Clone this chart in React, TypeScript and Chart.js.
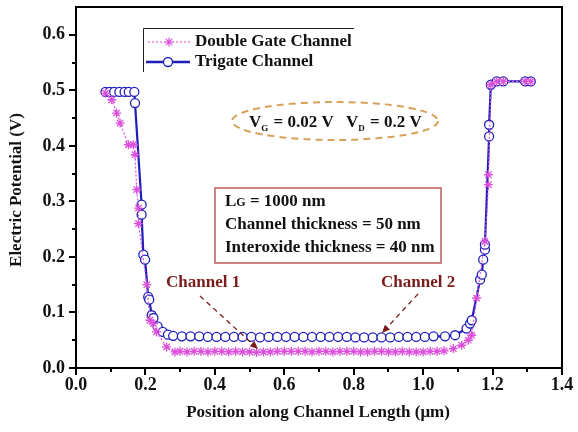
import React, { useEffect, useRef } from "react";
import { Chart, registerables } from "chart.js";
Chart.register(...registerables);

// ---- data ----
const xTickValues = [0, 0.2, 0.4, 0.6, 0.8, 1.0, 1.2, 1.4];
const xMinorValues = [0.1, 0.3, 0.5, 0.7, 0.9, 1.1, 1.3];
const yTickValues = [0, 0.1, 0.2, 0.3, 0.4, 0.5, 0.6];
const yMinorValues = [0.05, 0.15, 0.25, 0.35, 0.45, 0.55];
const xAxisTitle = "Position along Channel Length (\u03bcm)";
const yAxisTitle = "Electric Potential (V)";
const seriesNames = ["Double Gate Channel", "Trigate Channel"];

const doubleGateX = [
  0.085, 0.103, 0.117, 0.127, 0.151, 0.165, 0.17, 0.175, 0.18, 0.18,
  0.204, 0.213, 0.223, 0.232, 0.261, 0.285,
  0.3, 0.32, 0.34, 0.36, 0.38, 0.4, 0.42, 0.44, 0.46, 0.48, 0.5, 0.52, 0.54,
  0.56, 0.58, 0.6, 0.62, 0.64, 0.66, 0.68, 0.7, 0.72, 0.74, 0.76, 0.78, 0.8,
  0.82, 0.84, 0.86, 0.88, 0.9, 0.92, 0.94, 0.96, 0.98, 1.0, 1.02, 1.04, 1.06,
  1.087, 1.111, 1.13, 1.14, 1.154, 1.178, 1.188, 1.188, 1.195, 1.212, 1.231,
  1.294, 1.31,
];
const doubleGateY = [
  0.495, 0.483, 0.459, 0.441, 0.402, 0.402, 0.384, 0.321, 0.288, 0.26,
  0.15, 0.086, 0.08, 0.065, 0.038, 0.029,
  0.03, 0.029, 0.03, 0.03, 0.029, 0.03, 0.03, 0.029, 0.03, 0.029, 0.029, 0.028, 0.029,
  0.029, 0.03, 0.03, 0.03, 0.03, 0.03, 0.029, 0.03, 0.03, 0.029, 0.03, 0.03, 0.03,
  0.029, 0.029, 0.03, 0.03, 0.029, 0.029, 0.03, 0.029, 0.029, 0.029, 0.03, 0.03, 0.031,
  0.035, 0.041, 0.05, 0.059, 0.126, 0.228, 0.33, 0.348, 0.51, 0.516, 0.516,
  0.516, 0.516,
];

const trigateX = [
  0.085, 0.097, 0.11, 0.125, 0.14, 0.152, 0.168, 0.17, 0.189, 0.189, 0.194,
  0.199, 0.208, 0.211, 0.218, 0.223, 0.235, 0.25, 0.265,
  0.28, 0.305, 0.33, 0.355, 0.38, 0.405, 0.43, 0.455, 0.48, 0.505, 0.53, 0.555,
  0.58, 0.605, 0.63, 0.655, 0.68, 0.705, 0.73, 0.755, 0.78, 0.805, 0.83, 0.855,
  0.88, 0.905, 0.93, 0.955, 0.98, 1.005, 1.03, 1.063,
  1.092, 1.125, 1.135, 1.14, 1.164, 1.169, 1.173, 1.178, 1.178, 1.19, 1.19,
  1.195, 1.212, 1.231, 1.294, 1.31,
];
const trigateY = [
  0.497, 0.497, 0.497, 0.497, 0.497, 0.497, 0.497, 0.477, 0.294, 0.276, 0.204,
  0.195, 0.128, 0.123, 0.095, 0.09, 0.075, 0.065, 0.06,
  0.058, 0.057, 0.057, 0.057, 0.056, 0.056, 0.056, 0.056, 0.056, 0.056, 0.055, 0.056,
  0.056, 0.056, 0.056, 0.056, 0.056, 0.056, 0.056, 0.056, 0.056, 0.055, 0.055, 0.055,
  0.055, 0.055, 0.056, 0.056, 0.056, 0.056, 0.057, 0.057,
  0.059, 0.071, 0.08, 0.086, 0.159, 0.168, 0.195, 0.213, 0.222, 0.417, 0.438,
  0.51, 0.516, 0.516, 0.516, 0.516,
];

const FONT = '"Liberation Serif", "Times New Roman", serif';
const MAGENTA = "#dc4fdc";
const BLUE = "#1e1eb8";
const MAROON = "#7a1c1c";

function drawStar(ctx: CanvasRenderingContext2D, x: number, y: number, r: number) {
  ctx.beginPath();
  for (let i = 0; i < 4; i++) {
    const a = (i * Math.PI) / 4;
    ctx.moveTo(x - Math.cos(a) * r, y - Math.sin(a) * r);
    ctx.lineTo(x + Math.cos(a) * r, y + Math.sin(a) * r);
  }
  ctx.stroke();
}

function drawArrow(ctx: CanvasRenderingContext2D, x1: number, y1: number, x2: number, y2: number) {
  ctx.save();
  ctx.strokeStyle = MAROON;
  ctx.fillStyle = MAROON;
  ctx.lineWidth = 1.3;
  ctx.setLineDash([5, 4]);
  const ang = Math.atan2(y2 - y1, x2 - x1);
  const hl = 8;
  ctx.beginPath();
  ctx.moveTo(x1, y1);
  ctx.lineTo(x2 - Math.cos(ang) * hl, y2 - Math.sin(ang) * hl);
  ctx.stroke();
  ctx.setLineDash([]);
  ctx.beginPath();
  ctx.moveTo(x2, y2);
  ctx.lineTo(x2 - Math.cos(ang) * hl - Math.sin(ang) * 3.5, y2 - Math.sin(ang) * hl + Math.cos(ang) * 3.5);
  ctx.lineTo(x2 - Math.cos(ang) * hl + Math.sin(ang) * 3.5, y2 - Math.sin(ang) * hl - Math.cos(ang) * 3.5);
  ctx.closePath();
  ctx.fill();
  ctx.restore();
}

const overlay = {
  id: "overlay",
  afterDraw(chart: any) {
    const ctx: CanvasRenderingContext2D = chart.ctx;
    const { left, right, top, bottom } = chart.chartArea;
    const xs = chart.scales.x;
    const ys = chart.scales.y;
    ctx.save();
    // frame
    ctx.strokeStyle = "#000";
    ctx.lineWidth = 2;
    ctx.strokeRect(left, top, right - left, bottom - top);
    // ticks
    ctx.beginPath();
    xTickValues.forEach((v) => {
      const p = Math.round(xs.getPixelForValue(v));
      ctx.moveTo(p, bottom);
      ctx.lineTo(p, bottom + 7);
    });
    xMinorValues.forEach((v) => {
      const p = Math.round(xs.getPixelForValue(v));
      ctx.moveTo(p, bottom);
      ctx.lineTo(p, bottom + 4);
    });
    yTickValues.forEach((v) => {
      const p = Math.round(ys.getPixelForValue(v));
      ctx.moveTo(left, p);
      ctx.lineTo(left - 7, p);
    });
    yMinorValues.forEach((v) => {
      const p = Math.round(ys.getPixelForValue(v));
      ctx.moveTo(left, p);
      ctx.lineTo(left - 4, p);
    });
    ctx.stroke();
    // tick labels
    ctx.fillStyle = "#111";
    ctx.font = `bold 18px ${FONT}`;
    ctx.textAlign = "center";
    ctx.textBaseline = "top";
    xTickValues.forEach((v) => {
      ctx.fillText(v.toFixed(1), xs.getPixelForValue(v), bottom + 8);
    });
    ctx.textAlign = "right";
    ctx.textBaseline = "middle";
    yTickValues.forEach((v) => {
      ctx.fillText(v.toFixed(1), left - 11, ys.getPixelForValue(v));
    });
    // axis titles
    ctx.font = `bold 17px ${FONT}`;
    ctx.textAlign = "center";
    ctx.textBaseline = "middle";
    ctx.fillText(xAxisTitle, 318, 413);
    ctx.save();
    ctx.translate(17, 190);
    ctx.rotate(-Math.PI / 2);
    ctx.fillText(yAxisTitle, 0, 0);
    ctx.restore();

    // legend
    ctx.strokeStyle = "#222";
    ctx.lineWidth = 1;
    ctx.beginPath();
    ctx.moveTo(143.5, 72);
    ctx.lineTo(143.5, 28.5);
    ctx.lineTo(354, 28.5);
    ctx.stroke();
    ctx.strokeStyle = MAGENTA;
    ctx.lineWidth = 1.2;
    ctx.setLineDash([2, 2]);
    ctx.beginPath();
    ctx.moveTo(148, 42);
    ctx.lineTo(190, 42);
    ctx.stroke();
    ctx.setLineDash([]);
    drawStar(ctx, 169, 42, 4.5);
    ctx.strokeStyle = BLUE;
    ctx.lineWidth = 2.5;
    ctx.beginPath();
    ctx.moveTo(146, 62);
    ctx.lineTo(190, 62);
    ctx.stroke();
    ctx.fillStyle = "#fff";
    ctx.lineWidth = 1.3;
    ctx.beginPath();
    ctx.arc(168, 62, 4.5, 0, Math.PI * 2);
    ctx.fill();
    ctx.stroke();
    ctx.fillStyle = "#111";
    ctx.font = `bold 17px ${FONT}`;
    ctx.textAlign = "left";
    ctx.textBaseline = "middle";
    ctx.fillText(seriesNames[0], 195, 42);
    ctx.fillText(seriesNames[1], 195, 62);

    // ellipse annotation
    ctx.strokeStyle = "#d6a25a";
    ctx.lineWidth = 2;
    ctx.setLineDash([7, 5]);
    ctx.beginPath();
    ctx.ellipse(335, 121, 103, 19, 0, 0, Math.PI * 2);
    ctx.stroke();
    ctx.setLineDash([]);
    ctx.textBaseline = "alphabetic";
    ctx.fillStyle = "#111";
    const drawSub = (x: number, main: string, sub: string, rest: string) => {
      ctx.font = `bold 17px ${FONT}`;
      ctx.fillText(main, x, 127);
      let cx = x + ctx.measureText(main).width;
      ctx.font = `bold 9px ${FONT}`;
      ctx.fillText(sub, cx, 131);
      cx += ctx.measureText(sub).width + 1;
      ctx.font = `bold 17px ${FONT}`;
      ctx.fillText(rest, cx, 127);
    };
    drawSub(249, "V", "G", " = 0.02 V");
    drawSub(346, "V", "D", " = 0.2 V");

    // parameter box
    ctx.strokeStyle = "#c35a55";
    ctx.lineWidth = 1.5;
    ctx.strokeRect(215, 188, 226, 75);
    ctx.font = `bold 17px ${FONT}`;
    ctx.fillText("L", 225, 206);
    let lx = 225 + ctx.measureText("L").width;
    ctx.font = `bold 12px ${FONT}`;
    ctx.fillText("G", lx, 206);
    lx += ctx.measureText("G").width;
    ctx.font = `bold 17px ${FONT}`;
    ctx.fillText(" = 1000 nm", lx, 206);
    ctx.fillText("Channel thickness = 50 nm", 225, 229);
    ctx.fillText("Interoxide thickness = 40 nm", 225, 252);

    // channel labels
    ctx.fillStyle = MAROON;
    ctx.textBaseline = "middle";
    ctx.fillText("Channel 1", 166, 283);
    ctx.fillText("Channel 2", 381, 283);
    drawArrow(ctx, 200, 296, 258, 349);
    drawArrow(ctx, 418, 294, 382, 333);
    ctx.restore();
  },
};

export default function App() {
  const ref = useRef<HTMLCanvasElement>(null);
  useEffect(() => {
    const dg = doubleGateX.map((x, i) => ({ x, y: doubleGateY[i] }));
    const tg = trigateX.map((x, i) => ({ x, y: trigateY[i] }));
    const chart = new Chart(ref.current as HTMLCanvasElement, {
      type: "line",
      data: {
        datasets: [
          {
            label: seriesNames[0],
            data: dg,
            borderColor: MAGENTA,
            borderWidth: 1.2,
            borderDash: [2, 2],
            pointStyle: "star",
            pointRadius: 4.5,
            pointBorderColor: MAGENTA,
            pointBorderWidth: 1.3,
            pointBackgroundColor: MAGENTA,
            tension: 0,
          },
          {
            label: seriesNames[1],
            data: tg,
            borderColor: BLUE,
            borderWidth: 2.2,
            pointStyle: "circle",
            pointRadius: 4.5,
            pointBorderColor: BLUE,
            pointBorderWidth: 1.3,
            pointBackgroundColor: "#ffffff",
            tension: 0,
          },
        ],
      },
      options: {
        animation: false,
        responsive: false,
        devicePixelRatio: 1,
        layout: { padding: { left: 76, right: 16, top: 7, bottom: 64 } },
        scales: {
          x: { type: "linear", min: 0, max: 1.4, display: false },
          y: { type: "linear", min: 0, max: 0.65, display: false },
        },
        plugins: { legend: { display: false }, tooltip: { enabled: false } },
      },
      plugins: [overlay],
    });
    return () => chart.destroy();
  }, []);
  return (
    <div style={{ position: "absolute", left: 0, top: 0, width: 578, height: 432, background: "#fff" }}>
      <canvas ref={ref} width={578} height={432} style={{ display: "block" }} />
    </div>
  );
}
